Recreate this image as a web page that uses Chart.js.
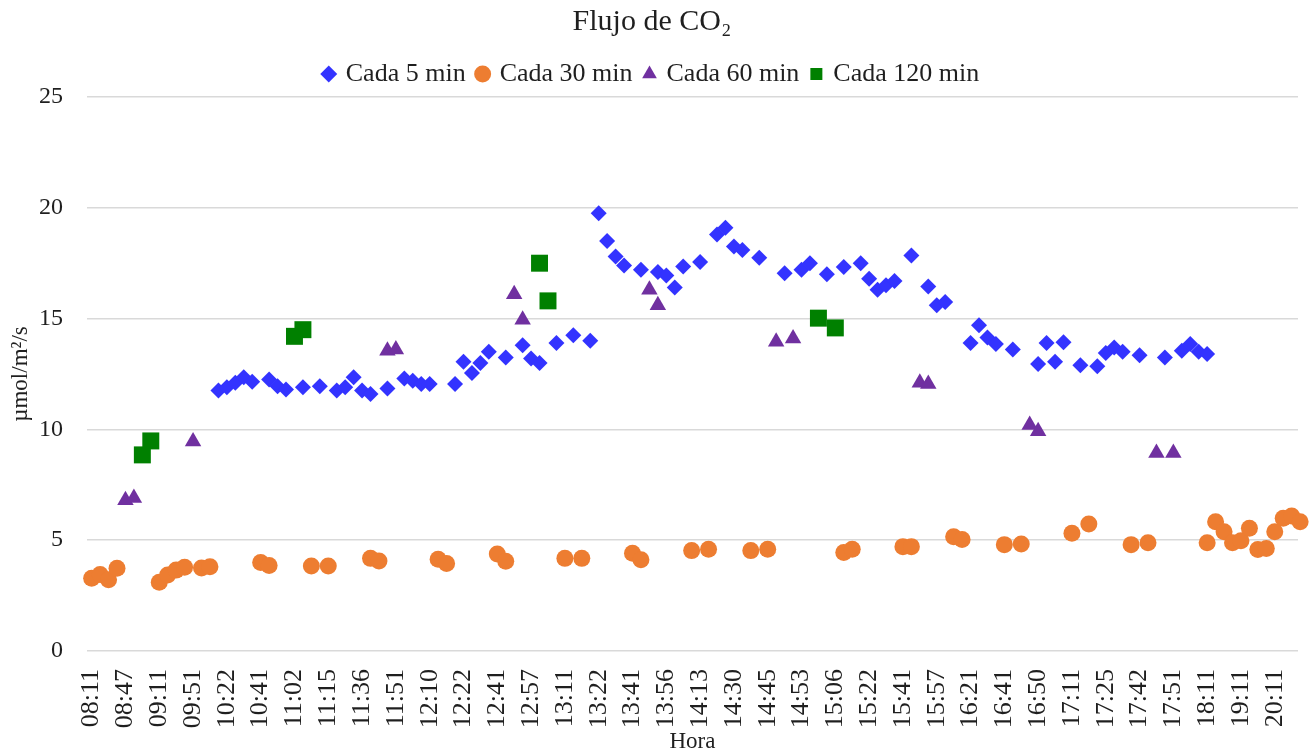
<!DOCTYPE html>
<html>
<head>
<meta charset="utf-8">
<title>Flujo de CO2</title>
<script src="https://cdn.jsdelivr.net/npm/chart.js@4.4.1/dist/chart.umd.min.js"></script>
<style>
  html, body { margin: 0; padding: 0; background: #fff; overflow: hidden; }
  canvas { display: block; }
</style>
</head>
<body>
<canvas id="co2Chart" width="1310" height="756"></canvas>
<script>
// Etiquetas del eje X (una cada 4 lecturas) y lecturas por serie.
// Posición = número de lectura en el eje de categorías (0..143).
const timeLabels = ['08:11','08:47','09:11','09:51','10:22','10:41','11:02','11:15','11:36','11:51',
                    '12:10','12:22','12:41','12:57','13:11','13:22','13:41','13:56','14:13','14:30',
                    '14:45','14:53','15:06','15:22','15:41','15:57','16:21','16:41','16:50','17:11',
                    '17:25','17:42','17:51','18:11','19:11','20:11'];
const LABEL_STEP = 4;

const pos5 = [15,16,17,18,19,21,22,23,25,27,29,30,31,32,33,35,37,38,39,40,
              43,44,45,46,47,49,51,52,53,55,57,59,60,61,62,63,65,67,68,69,70,72,74,75,76,77,79,
              82,84,85,87,89,91,92,93,94,95,97,99,100,101,104,105,106,107,109,
              112,113,114,115,117,119,120,121,122,124,127,129,130,131,132];
const val5 = [11.75,11.9,12.1,12.35,12.15,12.25,11.95,11.8,11.9,11.95,11.75,11.9,12.35,11.75,11.6,11.85,12.3,12.2,12.05,12.05,
              12.05,13.05,12.55,13.0,13.5,13.25,13.8,13.2,13.0,13.9,14.25,14.0,19.75,18.5,17.8,17.4,17.2,17.1,16.95,16.4,17.35,17.55,18.8,19.1,18.25,18.1,17.75,
              17.05,17.2,17.5,17.0,17.33,17.5,16.8,16.3,16.5,16.7,17.85,16.45,15.6,15.75,13.9,14.7,14.15,13.85,13.6,
              12.95,13.9,13.05,13.93,12.9,12.85,13.45,13.7,13.5,13.35,13.25,13.55,13.85,13.5,13.4];

const pos30 = [0,1,2,3,8,9,10,11,13,14,20,21,26,28,33,34,41,42,48,49,56,58,64,65,71,73,78,80,
               89,90,96,97,102,103,108,110,116,118,123,125,132,133,134,135,136,137,138,139,140,141,142,143];
const val30 = [3.28,3.45,3.22,3.73,3.1,3.43,3.65,3.78,3.75,3.8,3.99,3.86,3.84,3.84,4.18,4.06,4.14,3.95,4.38,4.05,4.18,4.18,4.41,4.12,4.53,4.59,4.53,4.59,
               4.44,4.59,4.71,4.71,5.16,5.03,4.8,4.83,5.31,5.73,4.8,4.89,4.89,5.83,5.38,4.89,4.98,5.54,4.58,4.63,5.38,5.99,6.09,5.83];

const pos60 = [4,5,12,35,36,50,51,66,67,81,83,98,99,111,112,126,128];
const val60 = [6.8,6.9,9.45,13.55,13.6,16.1,14.95,16.3,15.6,13.95,14.1,12.1,12.05,10.2,9.92,8.93,8.93];

const pos120 = [6,7,24,25,53,54,86,88];
const val120 = [8.85,9.48,14.2,14.5,17.5,15.8,15.02,14.58];

const FONT = "'Liberation Serif', 'Times New Roman', serif";
const TEXT = '#1f1f1f';

function toPoints(pos, vals) {
    return pos.map((x, i) => ({ x, y: vals[i] }));
}

new Chart(document.getElementById('co2Chart').getContext('2d'), {
    type: 'scatter',
    data: {
        datasets: [
            { label: 'Cada 5 min',   data: toPoints(pos5, val5),     pointStyle: 'rectRot',  pointRadius: 8,   backgroundColor: '#3333FF', borderColor: '#3333FF', borderWidth: 0, clip: false },
            { label: 'Cada 30 min',  data: toPoints(pos30, val30),   pointStyle: 'circle',   pointRadius: 8.5, backgroundColor: '#ED7D31', borderColor: '#ED7D31', borderWidth: 0, clip: false },
            { label: 'Cada 60 min',  data: toPoints(pos60, val60),   pointStyle: 'triangle', pointRadius: 9.5, backgroundColor: '#7030A0', borderColor: '#7030A0', borderWidth: 0, clip: false },
            { label: 'Cada 120 min', data: toPoints(pos120, val120), pointStyle: 'rect',     pointRadius: 12,  backgroundColor: '#008000', borderColor: '#008000', borderWidth: 0, clip: false }
        ]
    },
    options: {
        responsive: false,
        animation: false,
        devicePixelRatio: 1,
        layout: { padding: { left: 0, right: 6, top: 0, bottom: 0 } },
        plugins: {
            title: {
                display: true,
                text: 'Flujo de CO₂',
                color: TEXT,
                font: { family: FONT, size: 30, weight: 'normal' },
                padding: { top: 4, bottom: 8 }
            },
            legend: {
                position: 'top',
                labels: {
                    usePointStyle: true,
                    boxWidth: 8,
                    boxHeight: 12,
                    padding: 13,
                    color: TEXT,
                    font: { family: FONT, size: 26 }
                }
            },
            tooltip: { enabled: false }
        },
        scales: {
            x: {
                type: 'linear',
                // el área termina unos px antes del borde; se ajusta el rango
                // para que cada lectura caiga donde está en el original
                min: -0.55,
                max: 142.75,
                afterBuildTicks: s => { s.ticks = timeLabels.map((_, i) => ({ value: i * LABEL_STEP })); },
                afterFit: s => { s.height = 105; s.paddingLeft = 0; s.paddingRight = 0; },
                grid: { display: false, drawTicks: false },
                border: { display: false },
                ticks: {
                    autoSkip: false,
                    minRotation: 90,
                    maxRotation: 90,
                    padding: 18,
                    color: TEXT,
                    font: { family: FONT, size: 26 },
                    callback: v => timeLabels[Math.round(v / LABEL_STEP)]
                },
                title: {
                    display: true,
                    text: 'Hora',
                    color: TEXT,
                    font: { family: FONT, size: 23 },
                    padding: { top: 0, bottom: 0 }
                }
            },
            y: {
                min: 0,
                max: 25,
                afterFit: s => { s.width = 87; },
                grid: { color: '#d9d9d9', lineWidth: 1.5, drawTicks: false },
                border: { display: false },
                ticks: {
                    stepSize: 5,
                    padding: 24,
                    color: TEXT,
                    font: { family: FONT, size: 24 }
                },
                title: {
                    display: true,
                    text: 'µmol/m²/s',
                    color: TEXT,
                    font: { family: FONT, size: 23 },
                    padding: { top: 7, bottom: 0 }
                }
            }
        }
    }
});
</script>
</body>
</html>
